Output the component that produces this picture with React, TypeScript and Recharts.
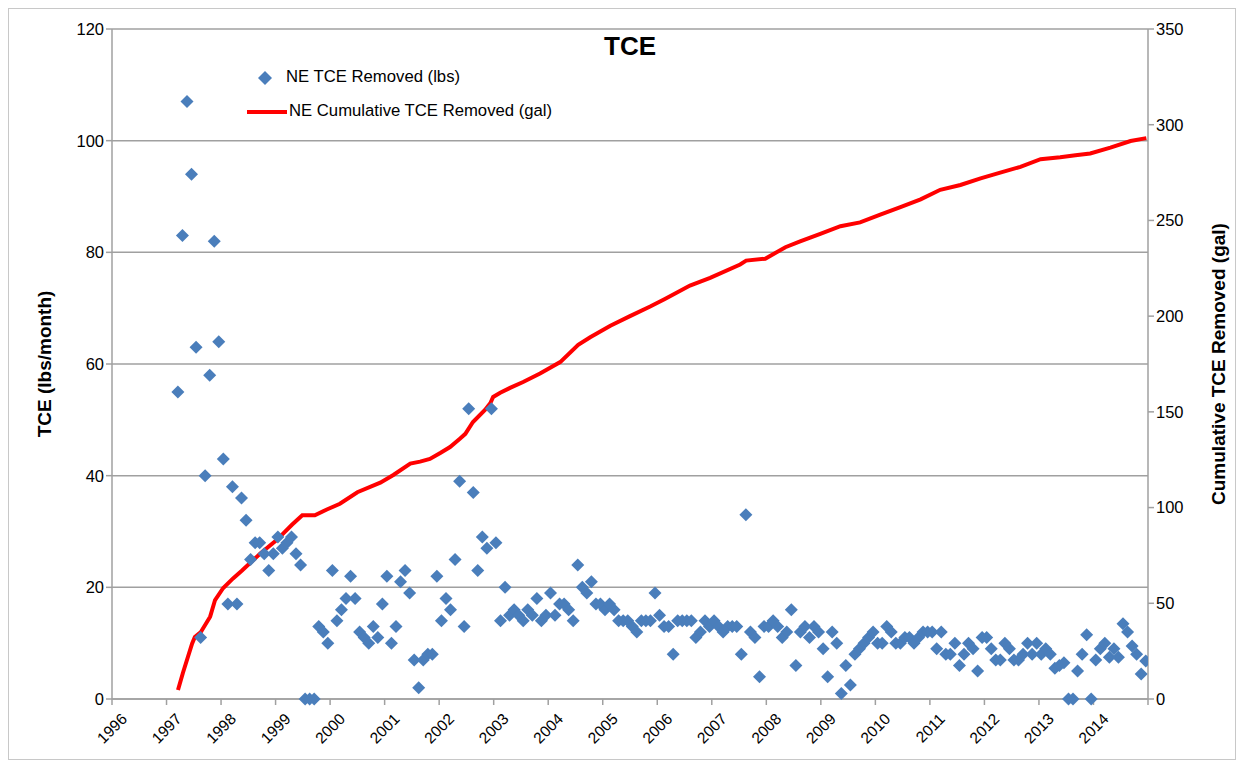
import React from "react";
import {
  ComposedChart,
  Scatter,
  Line,
  XAxis,
  YAxis,
  CartesianGrid,
  Label,
} from "recharts";

// monthly TCE removed (lbs), first value is March 1997
const firstYear = 1997;
const firstMonth = 3;
const tceRemoved = [
  55, 83, 107, 94, 63, 11, 40, 58, 82, 64,
  43, 17, 38, 17, 36, 32, 25, 28, 28, 26, 23, 26,
  29, 27, 28, 29, 26, 24, 0, 0, 0, 13, 12, 10,
  23, 14, 16, 18, 22, 18, 12, 11, 10, 13, 11, 17,
  22, 10, 13, 21, 23, 19, 7, 2, 7, 8, 8, 22,
  14, 18, 16, 25, 39, 13, 52, 37, 23, 29, 27, 52,
  28, 14, 20, 15, 16, 15, 14, 16, 15, 18, 14, 15,
  19, 15, 17, 17, 16, 14, 24, 20, 19, 21, 17, 17,
  16, 17, 16, 14, 14, 14, 13, 12, 14, 14, 14, 19,
  15, 13, 13, 8, 14, 14, 14, 14, 11, 12, 14, 13,
  14, 13, 12, 13, 13, 13, 8, 33, 12, 11, 4, 13,
  13, 14, 13, 11, 12, 16, 6, 12, 13, 11, 13, 12,
  9, 4, 12, 10, 1, 6, 2.5, 8, 9, 10, 11, 12,
  10, 10, 13, 12, 10, 10, 11, 11, 10, 11, 12, 12,
  12, 9, 12, 8, 8, 10, 6, 8, 10, 9, 5, 11,
  11, 9, 7, 7, 10, 9, 7, 7, 8, 10, 8, 10,
  8, 9, 8, 5.5, 6, 6.5, 0, 0, 5, 8, 11.5, 0,
  7, 9, 10, 7.5, 9, 7.5, 13.5, 12, 9.5, 8, 4.5, 6.8,
];

// cumulative TCE removed (gal)
const cumYears = [
  1997.21, 1997.3, 1997.47, 1997.52, 1997.63, 1997.8, 1997.89, 1998.04, 1998.22,
  1998.38, 1998.72, 1999.02, 1999.3, 1999.49, 1999.72, 1999.94, 2000.18, 2000.5,
  2000.92, 2001.16, 2001.47, 2001.65, 2001.83, 2002.02, 2002.2, 2002.38, 2002.48,
  2002.62, 2002.84, 2002.94, 2002.99, 2003.12, 2003.3, 2003.54, 2003.85, 2004.22,
  2004.55, 2004.77, 2005.14, 2005.5, 2005.87, 2006.14, 2006.6, 2006.97, 2007.52,
  2007.63, 2007.98, 2008.35, 2008.62, 2008.99, 2009.36, 2009.72, 2010.09, 2010.46,
  2010.83, 2011.19, 2011.56, 2011.93, 2012.29, 2012.66, 2013.03, 2013.39, 2013.67,
  2013.94, 2014.31, 2014.68, 2014.97,
];
const cumGallons = [
  4.7, 13.6, 29, 32.4, 35, 43, 51.7, 58, 63,
  67, 76, 83, 91, 96, 96, 99, 102, 108,
  113, 117, 123, 124, 125.4, 128.5, 131.6, 136, 138.5,
  144.7, 151, 154.6, 157.8, 160, 162.5, 165.6, 170, 176,
  185, 189, 195, 200, 205, 209, 216, 220, 227,
  229, 230, 236, 239, 243, 247, 249, 253, 257,
  261, 266, 268.5, 272, 275, 278, 282, 283, 284,
  285, 288, 291.5, 293,
];

const yearTicks = [
  1996, 1997, 1998, 1999, 2000, 2001, 2002, 2003, 2004, 2005, 2006, 2007, 2008,
  2009, 2010, 2011, 2012, 2013, 2014, 2015,
];
const lbsTicks = [0, 20, 40, 60, 80, 100, 120];
const galTicks = [0, 50, 100, 150, 200, 250, 300, 350];

const monthly = tceRemoved.map((v, i) => {
  const m = firstMonth - 1 + i;
  return { t: firstYear + Math.floor(m / 12) + ((m % 12) + 0.5) / 12, v };
});
const cumulative = cumYears.map((t, i) => ({ t, c: cumGallons[i] }));

const FONT = "'Liberation Sans', Arial, sans-serif";
const BLUE = "#4a7ebb";
const GRID = "#a0a0a0";

const Diamond = (props: any) => {
  const { cx, cy } = props;
  const r = 6.5;
  return (
    <polygon
      points={`${cx},${cy - r} ${cx + r},${cy} ${cx},${cy + r} ${cx - r},${cy}`}
      fill={BLUE}
    />
  );
};

const YearTick = (props: any) => {
  const { x, y, payload } = props;
  if (payload.value > 2014) return null;
  return (
    <g transform={`translate(${x + 16},${y + 13})`}>
      <text textAnchor="end" transform="rotate(-45)" fontSize={15.5} fill="#000" fontFamily={FONT}>
        {payload.value}
      </text>
    </g>
  );
};

const titleStyle = { textAnchor: "middle", fontWeight: "bold", fontSize: 19, fill: "#000", fontFamily: FONT } as any;

export default function App() {
  return (
    <div
      style={{
        position: "relative",
        width: 1228,
        height: 752,
        border: "1px solid #c8c8c8",
        boxSizing: "border-box",
        fontFamily: FONT,
        background: "#fff",
      }}
    >
      <ComposedChart width={1226} height={750} margin={{ top: 20, right: 8, bottom: 8, left: 8 }}>
        <CartesianGrid yAxisId="left" vertical={false} stroke={GRID} strokeWidth={1.5} />
        <XAxis
          type="number"
          dataKey="t"
          domain={[1996, 2015]}
          ticks={yearTicks}
          interval={0}
          height={52}
          tick={<YearTick />}
          stroke={GRID}
          strokeWidth={1.5}
          tickSize={6}
          allowDataOverflow
        />
        <YAxis
          yAxisId="left"
          domain={[0, 120]}
          ticks={lbsTicks}
          width={95}
          stroke={GRID}
          strokeWidth={1.5}
          tickSize={6}
          tick={{ fill: "#000", fontSize: 16.5, fontFamily: FONT }}
        >
          <Label value="TCE (lbs/month)" angle={-90} position="insideLeft" offset={27} style={titleStyle} />
        </YAxis>
        <YAxis
          yAxisId="right"
          orientation="right"
          domain={[0, 350]}
          ticks={galTicks}
          width={79}
          stroke={GRID}
          strokeWidth={1.5}
          tickSize={6}
          tick={{ fill: "#000", fontSize: 16.5, fontFamily: FONT }}
        >
          <Label
            value="Cumulative TCE Removed (gal)"
            angle={-90}
            position="insideRight"
            offset={9}
            style={titleStyle}
          />
        </YAxis>
        <Scatter
          name="NE TCE Removed (lbs)"
          yAxisId="left"
          data={monthly}
          dataKey="v"
          shape={<Diamond />}
          isAnimationActive={false}
        />
        <Line
          name="NE Cumulative TCE Removed (gal)"
          yAxisId="right"
          data={cumulative}
          dataKey="c"
          type="linear"
          stroke="#ff0000"
          strokeWidth={4}
          dot={false}
          isAnimationActive={false}
        />
      </ComposedChart>

      {/* title */}
      <div
        style={{
          position: "absolute",
          left: 621,
          top: 22,
          transform: "translateX(-50%)",
          fontWeight: "bold",
          fontSize: 26,
        }}
      >
        TCE
      </div>

      {/* legend */}
      <div style={{ position: "absolute", left: 230, top: 55, width: 400, height: 70, fontSize: 16.7 }}>
        <svg width={14} height={14} style={{ position: "absolute", left: 19, top: 7 }}>
          <polygon points="7,0 14,7 7,14 0,7" fill={BLUE} />
        </svg>
        <span style={{ position: "absolute", left: 47, top: 3, whiteSpace: "nowrap" }}>
          NE TCE Removed (lbs)
        </span>
        <svg width={40} height={6} style={{ position: "absolute", left: 8, top: 45 }}>
          <line x1={0} y1={3} x2={40} y2={3} stroke="#ff0000" strokeWidth={4} />
        </svg>
        <span style={{ position: "absolute", left: 50, top: 37, whiteSpace: "nowrap" }}>
          NE Cumulative TCE Removed (gal)
        </span>
      </div>
    </div>
  );
}
